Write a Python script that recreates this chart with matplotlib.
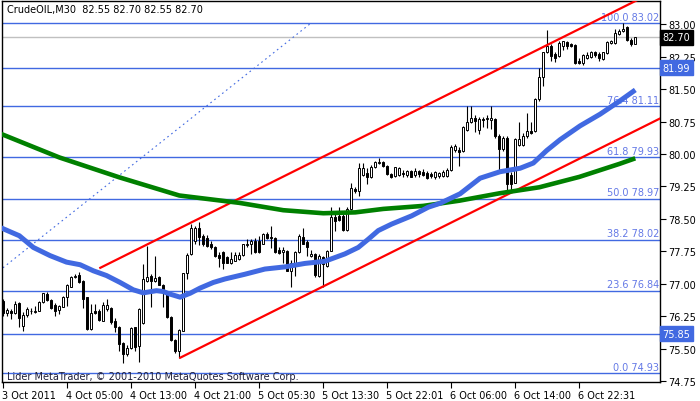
import matplotlib
matplotlib.use("Agg")
import matplotlib.pyplot as plt
import matplotlib.transforms as mtransforms
import numpy as np

# ---------------- data ----------------
opens = [76.59,76.32,76.36,76.32,76.55,76.03,76.28,76.36,76.35,76.38,
         76.57,76.76,76.62,76.52,76.39,76.47,76.69,76.93,77.16,77.20,
         77.07,76.69,75.95,76.38,76.38,76.15,76.42,76.44,76.13,75.99,
         75.62,75.38,75.52,75.99,75.57,76.09,77.07,77.19,77.07,77.15,
         76.96,76.76,76.22,75.70,75.45,75.91,77.24,77.69,77.98,78.30,
         78.11,78.06,77.93,77.86,77.67,77.73,77.61,77.49,77.53,77.57,
         77.67,77.90,77.92,77.99,77.98,77.93,78.15,78.07,78.06,77.78,
         77.73,77.76,77.29,77.40,77.73,78.07,77.96,77.63,77.69,77.19,
         77.61,77.42,77.76,78.55,78.57,78.57,78.24,78.73,79.19,79.15,
         79.52,79.55,79.46,79.71,79.80,79.81,79.73,79.54,79.50,79.52,
         79.56,79.52,79.61,79.52,79.60,79.58,79.56,79.54,79.46,79.48,
         79.50,79.50,79.64,80.10,80.10,80.08,80.56,80.73,80.82,80.56,
         80.80,80.80,80.79,80.81,80.42,80.12,80.38,79.51,79.34,80.21,
         80.21,80.41,80.54,80.52,81.27,81.77,82.35,82.50,82.31,82.26,
         82.50,82.58,82.54,82.52,82.16,82.10,82.21,82.23,82.35,82.31,
         82.20,82.33,82.57,82.57,82.77,82.85,82.93,82.64,82.55]
highs = [76.65,76.45,76.42,76.59,76.57,76.34,76.47,76.45,76.49,76.59,
         76.79,76.80,76.65,76.55,76.52,76.72,76.99,77.19,77.22,77.28,
         77.09,76.70,76.53,76.53,76.42,76.57,76.65,76.46,76.21,76.03,
         75.65,75.59,76.01,76.01,76.43,77.46,77.88,77.22,77.65,77.19,
         76.99,76.80,76.26,75.72,75.95,77.26,77.70,78.38,78.34,78.42,
         78.15,78.13,77.98,77.88,77.73,77.75,77.63,77.73,77.73,77.73,
         77.93,78.03,78.03,78.06,78.11,78.17,78.19,78.34,78.09,77.84,
         77.84,77.78,77.55,77.76,78.15,78.29,78.00,77.78,77.70,77.69,
         77.65,77.78,78.78,78.61,78.78,78.61,78.77,79.32,79.23,79.78,
         79.78,79.68,79.75,79.84,79.91,79.83,79.75,79.55,79.71,79.71,
         79.63,79.63,79.63,79.68,79.63,79.66,79.60,79.58,79.61,79.59,
         79.64,79.67,80.21,80.23,80.15,80.65,81.10,81.10,80.89,80.85,
         80.85,80.89,81.10,80.82,80.46,80.42,80.41,79.58,80.36,80.75,
         80.49,80.95,80.73,81.29,81.98,82.36,82.87,82.54,82.35,82.60,
         82.62,82.62,82.57,82.54,82.21,82.31,82.35,82.39,82.39,82.35,
         82.36,82.60,82.64,82.90,82.89,83.02,82.95,82.67,82.70]
lows = [76.26,76.26,76.18,76.30,75.99,75.90,76.22,76.30,76.32,76.36,
        76.55,76.59,76.42,76.26,76.30,76.46,76.49,76.92,77.13,77.01,
        76.44,75.93,75.94,76.29,76.15,76.13,76.38,76.07,75.88,75.44,
        75.16,75.34,75.49,75.45,75.18,76.07,77.03,76.46,77.03,76.96,
        76.46,76.21,75.68,75.39,75.28,75.90,77.11,77.67,77.93,77.90,
        77.88,77.86,77.81,77.61,77.38,77.34,77.47,77.46,77.52,77.55,
        77.65,77.86,77.69,77.70,77.70,77.92,78.03,77.83,77.70,77.69,
        77.49,77.29,76.93,77.19,77.70,77.92,77.65,77.61,77.16,77.16,
        76.93,77.39,77.75,78.23,78.46,78.21,78.21,78.70,79.09,79.04,
        79.50,79.31,79.44,79.68,79.77,79.71,79.52,79.44,79.47,79.50,
        79.47,79.46,79.46,79.47,79.47,79.50,79.42,79.44,79.42,79.44,
        79.46,79.46,79.61,80.05,79.73,80.05,80.54,80.72,80.50,80.46,
        80.62,80.59,80.58,80.38,79.61,80.08,79.11,79.11,79.33,80.19,
        80.19,80.38,80.46,80.50,81.23,81.58,82.33,82.16,82.12,82.23,
        82.41,82.43,82.47,82.08,82.08,82.06,82.20,82.21,82.23,82.16,
        82.18,82.31,82.54,82.54,82.75,82.83,82.62,82.50,82.55]
closes = [76.32,76.39,76.32,76.53,76.21,76.28,76.42,76.38,76.37,76.57,
          76.78,76.62,76.44,76.38,76.49,76.69,76.96,77.15,77.18,77.03,
          76.65,75.95,76.32,76.32,76.16,76.52,76.52,76.11,75.99,75.61,
          75.38,75.52,75.98,75.53,76.42,77.11,77.16,77.06,77.13,76.98,
          76.88,76.22,75.70,75.44,75.93,77.24,77.67,78.30,78.29,78.09,
          77.93,77.88,77.84,77.63,77.60,77.49,77.49,77.57,77.67,77.67,
          77.92,77.93,77.99,77.73,77.73,78.15,78.06,78.05,77.73,77.70,
          77.78,77.30,77.49,77.73,78.11,77.93,77.86,77.69,77.21,77.65,
          77.46,77.76,78.55,78.46,78.47,78.24,78.73,79.21,79.15,79.68,
          79.68,79.47,79.71,79.81,79.81,79.73,79.54,79.46,79.69,79.68,
          79.54,79.61,79.47,79.61,79.54,79.52,79.44,79.50,79.58,79.56,
          79.59,79.64,80.15,80.18,80.05,80.62,80.73,80.82,80.77,80.81,
          80.79,80.82,80.82,80.41,80.12,80.38,79.31,79.31,80.35,80.35,
          80.42,80.52,80.49,81.27,81.77,82.35,82.49,82.26,82.21,82.57,
          82.60,82.50,82.50,82.10,82.10,82.29,82.29,82.36,82.29,82.21,
          82.35,82.58,82.60,82.80,82.85,82.90,82.64,82.54,82.70]

# moving averages (bar index, price)
ma_blue_idx = [-1, 4, 7.5, 11.7, 15.8, 19.2, 22.5, 25.8, 29.2, 32.5, 35, 38.3, 40,
               41.7, 44.2, 46.7, 49.2, 52.5, 55.4, 60.4, 65.4, 70.4, 75.4, 80.4,
               85.4, 88.75, 91.25, 93.75, 97.1, 102.1, 106.25, 109.2, 114.2,
               119.2, 124.2, 129.2, 132.5, 135.85, 139.2, 144.2, 149.2, 154.2, 158]
ma_blue = [78.31, 78.11, 77.84, 77.65, 77.50, 77.44, 77.30, 77.19, 77.03, 76.86,
           76.79, 76.84, 76.82, 76.76, 76.69, 76.78, 76.90, 77.03, 77.11, 77.22,
           77.34, 77.39, 77.47, 77.52, 77.69, 77.84, 78.03, 78.23, 78.38, 78.57,
           78.77, 78.86, 79.08, 79.44, 79.59, 79.67, 79.79, 80.08, 80.33, 80.65,
           80.92, 81.23, 81.48]
ma_green_idx = [-1, 14, 29, 44, 59, 70, 80, 88, 95, 105, 114, 124, 134, 144, 154, 158]
ma_green = [80.48, 79.92, 79.46, 79.04, 78.87, 78.70, 78.63, 78.65, 78.73, 78.80,
            78.92, 79.09, 79.23, 79.47, 79.77, 79.90]

fib_levels = [83.02, 81.11, 79.93, 78.97, 78.02, 76.84, 74.93]
fib_pcts = ["100.0", "76.4", "61.8", "50.0", "38.2", "23.6", "0.0"]
hlines_marked = [81.99, 75.85]
bid_price = 82.70

channel_start_upper = (24, 77.357)
channel_start_lower = (44, 75.28)
channel_slope = 0.0461
dotted_start = (-33.3, 74.93)
dotted_end = (76.85, 83.02)

x_labels = ["3 Oct 2011", "4 Oct 05:00", "4 Oct 13:00", "4 Oct 21:00", "5 Oct 05:30",
            "5 Oct 13:30", "5 Oct 22:01", "6 Oct 06:00", "6 Oct 14:00", "6 Oct 22:31"]
x_label_idx = [0, 16, 32, 48, 64, 80, 96, 112, 128, 144]
y_ticks = [74.75, 75.50, 76.25, 77.00, 77.75, 78.50, 79.25, 80.00, 80.75, 81.50, 82.25, 83.00]

# ---------------- figure ----------------
W, H = 700, 402
fig = plt.figure(figsize=(W / 100, H / 100), dpi=100)
fig.patch.set_facecolor("white")
ax = fig.add_axes([2 / W, (H - 383) / H, 658 / W, 381 / H])
ax.set_xlim(-0.325, 164.175)
ax.set_ylim(74.729, 83.536)

BLUE = "#4169E1"
FIBTXT = "#6479E6"

# horizontal lines
for lv in fib_levels:
    ax.axhline(lv, color=BLUE, lw=1.0, zorder=1)
for lv in hlines_marked:
    ax.axhline(lv, color=BLUE, lw=1.0, zorder=1)
ax.axhline(bid_price, color="#C0C0C0", lw=1.0, zorder=1)

# fib labels
for lv, p in zip(fib_levels, fib_pcts):
    ax.text(164.0, lv + 0.03, f"{p} {lv:.2f}", color=FIBTXT, fontsize=7,
            ha="right", va="bottom", zorder=2)

# dotted fib line
ax.plot([dotted_start[0], dotted_end[0]], [dotted_start[1], dotted_end[1]],
        color=BLUE, lw=0.8, ls=(0, (1.5, 3)), zorder=2)

# channel lines
xe = 170
for (x0, y0) in (channel_start_upper, channel_start_lower):
    ax.plot([x0, xe], [y0, y0 + channel_slope * (xe - x0)], color="#FF0000",
            lw=1.6, zorder=5, solid_capstyle="butt")

# candles
idx = np.arange(len(opens))
o = np.array(opens); c = np.array(closes); hi = np.array(highs); lo = np.array(lows)
ax.vlines(idx, lo, hi, color="black", lw=0.8, zorder=3)
up = c >= o
bottom = np.minimum(o, c)
height = np.maximum(np.abs(c - o), 0.012)
ax.bar(idx[up], height[up], bottom=bottom[up], width=0.55, color="white",
       edgecolor="black", linewidth=0.7, zorder=4)
ax.bar(idx[~up], height[~up], bottom=bottom[~up], width=0.55, color="black",
       edgecolor="black", linewidth=0.7, zorder=4)

# moving averages
ax.plot(ma_green_idx, ma_green, color="#008000", lw=3.3, zorder=6, solid_capstyle="butt")
ax.plot(ma_blue_idx, ma_blue, color=BLUE, lw=3.6, zorder=6, solid_capstyle="butt")

# axes styling
for s in ["left", "top", "right", "bottom"]:
    ax.spines[s].set_color("black")
    ax.spines[s].set_linewidth(1.0)
ax.yaxis.tick_right()
ax.set_yticks(y_ticks)
ax.set_yticklabels([f"{v:.2f}" for v in y_ticks])
ax.tick_params(axis="y", direction="out", length=4, width=0.8, labelsize=7, pad=2,
               colors="black")
ax.set_xticks(x_label_idx)
ax.set_xticklabels(x_labels)
ax.tick_params(axis="x", direction="out", length=4, width=0.8, labelsize=7, pad=2,
               colors="black")
for lab in ax.get_xticklabels():
    lab.set_horizontalalignment("left")
    lab.set_transform(lab.get_transform() + mtransforms.ScaledTranslation(-1 / 100, 0, fig.dpi_scale_trans))

# boxed price labels on the right axis
trans = mtransforms.blended_transform_factory(ax.transAxes, ax.transData)
ax.text(1.004, bid_price, f"{bid_price:.2f}", transform=trans, color="white", fontsize=7,
        ha="left", va="center", zorder=10, clip_on=False,
        bbox=dict(boxstyle="square,pad=0.25", facecolor="black", edgecolor="black"))
for lv in hlines_marked:
    ax.text(1.004, lv, f"{lv:.2f}", transform=trans, color="white", fontsize=7,
            ha="left", va="center", zorder=10, clip_on=False,
            bbox=dict(boxstyle="square,pad=0.25", facecolor=BLUE, edgecolor=BLUE))

# header and copyright
fig.text(7 / W, 1 - 10 / H, "CrudeOIL,M30  82.55 82.70 82.55 82.70", fontsize=7,
         color="black", ha="left", va="center")
fig.text(7 / W, 1 - 377 / H, "Lider MetaTrader, \u00a9 2001-2010 MetaQuotes Software Corp.",
         fontsize=7, color="#1f1f3a", ha="left", va="center")

fig.savefig("out.png", dpi=100, facecolor="white")
